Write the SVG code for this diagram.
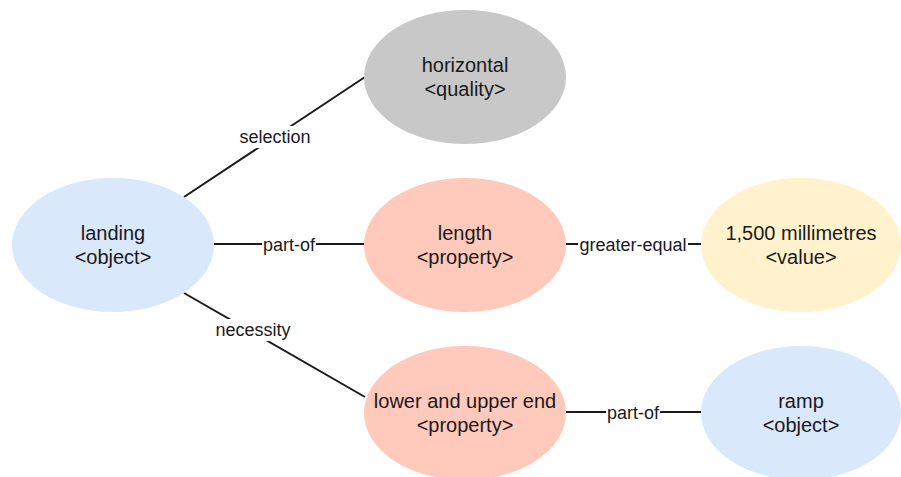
<svg xmlns="http://www.w3.org/2000/svg" width="901" height="477" viewBox="0 0 901 477">
<style>
.n{font-family:"Liberation Sans",Arial,sans-serif;font-size:20px;fill:#1a1a1a;text-anchor:middle}
.l{font-family:"Liberation Sans",Arial,sans-serif;font-size:18px;fill:#1a1a1a;text-anchor:middle;dominant-baseline:central}
.e{stroke:#1a1a1a;stroke-width:2;fill:none}
.bg{fill:#ffffff}
.obj{fill:#dae8fc}
.qual{fill:#c8c8c8}
.prop{fill:#ffc9bc}
.val{fill:#fff2cc}
</style>
<rect width="901" height="477" fill="#ffffff"/>
<g id="connectors">
<line class="e" x1="184" y1="197" x2="365" y2="77"/>
<rect class="bg" x="237" y="126" width="76" height="22"/>
<text class="l" x="275" y="137">selection</text>
<line class="e" x1="213" y1="244" x2="364" y2="244"/>
<rect class="bg" x="262" y="234" width="54" height="22"/>
<text class="l" x="289" y="245">part-of</text>
<line class="e" x1="184" y1="293" x2="365" y2="397"/>
<rect class="bg" x="214" y="319" width="78" height="22"/>
<text class="l" x="253" y="330">necessity</text>
<line class="e" x1="566" y1="244" x2="701" y2="244"/>
<rect class="bg" x="578" y="234" width="110" height="22"/>
<text class="l" x="633" y="245">greater-equal</text>
<line class="e" x1="566" y1="412" x2="701" y2="412"/>
<rect class="bg" x="606" y="402" width="54" height="22"/>
<text class="l" x="633" y="413">part-of</text>
</g>
<g id="landing">
<ellipse class="obj" cx="113" cy="245" rx="101" ry="67"/>
<text class="n" x="113" y="240">landing</text>
<text class="n" x="113" y="264">&lt;object&gt;</text>
</g>
<g id="horizontal">
<ellipse class="qual" cx="465" cy="77" rx="101" ry="67"/>
<text class="n" x="465" y="72">horizontal</text>
<text class="n" x="465" y="96">&lt;quality&gt;</text>
</g>
<g id="length">
<ellipse class="prop" cx="465" cy="245" rx="101" ry="67"/>
<text class="n" x="465" y="240">length</text>
<text class="n" x="465" y="264">&lt;property&gt;</text>
</g>
<g id="value">
<ellipse class="val" cx="801" cy="245" rx="100" ry="67"/>
<text class="n" x="801" y="240">1,500 millimetres</text>
<text class="n" x="801" y="264">&lt;value&gt;</text>
</g>
<g id="ends">
<ellipse class="prop" cx="465" cy="413" rx="101" ry="67"/>
<text class="n" x="465" y="408">lower and upper end</text>
<text class="n" x="465" y="432">&lt;property&gt;</text>
</g>
<g id="ramp">
<ellipse class="obj" cx="801" cy="413" rx="100" ry="67"/>
<text class="n" x="801" y="408">ramp</text>
<text class="n" x="801" y="432">&lt;object&gt;</text>
</g>
</svg>
